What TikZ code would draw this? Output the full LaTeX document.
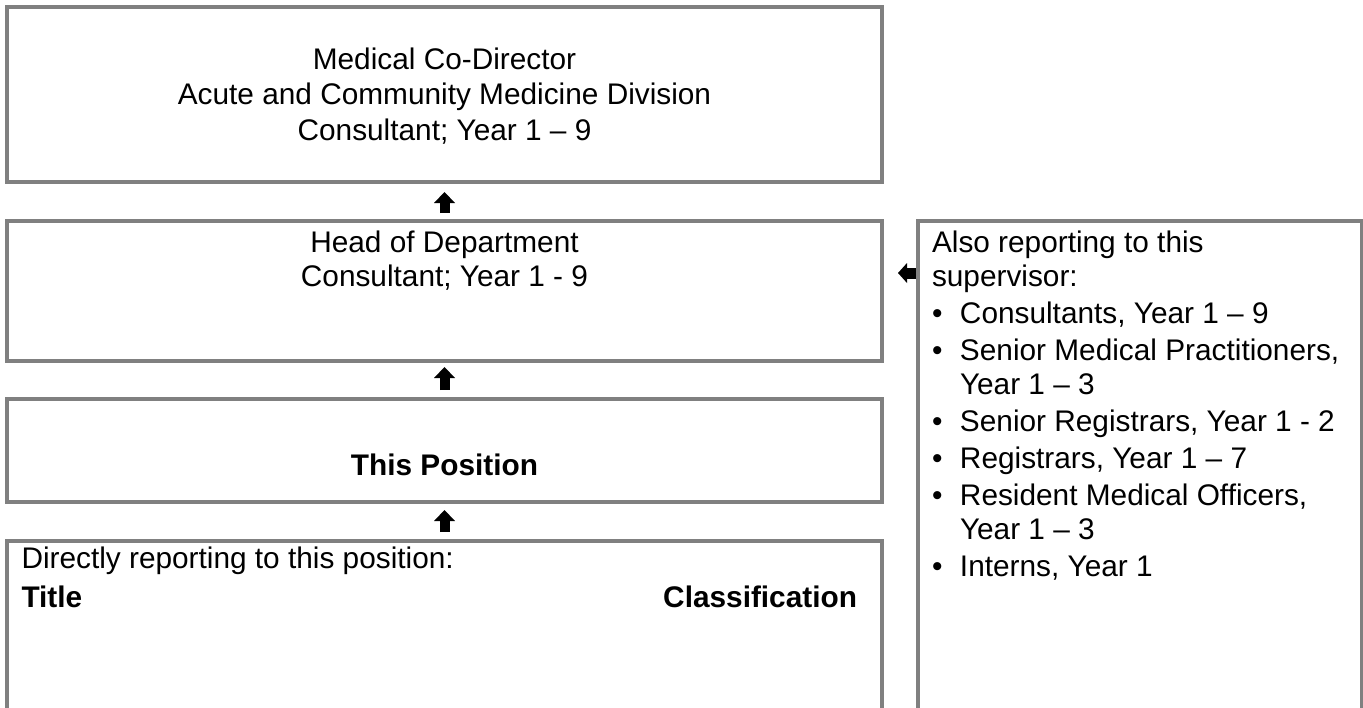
\documentclass[tikz,border=0pt]{standalone}
\usepackage{fontspec}
\setmainfont{Liberation Sans}
\usetikzlibrary{arrows.meta}
\definecolor{bordergray}{HTML}{808080}
\begin{document}
\begin{tikzpicture}[x=1pt,y=1pt,
  box/.style={draw=bordergray, line width=4pt, outer sep=0pt, inner sep=0pt, anchor=north west, minimum width=875pt},
  txt/.style={inner sep=0pt, outer sep=0pt, font=\fontsize{29.8}{34}\selectfont},
  fatu/.style={draw=black, line width=10pt, -{Triangle[width=21pt,length=11pt,line width=0pt]}},
  fatl/.style={draw=black, line width=11pt, -{Triangle[width=20pt,length=9pt,line width=0pt]}}]
\useasboundingbox (0,0) rectangle (1363,-707);
\clip (0,0) rectangle (1363,-707);
% boxes
\node[box, minimum height=175pt] (b1) at (7,-7) {};
\node[box, minimum height=140pt] (b2) at (7,-221) {};
\node[box, minimum height=103pt] (b3) at (7,-399) {};
\node[box, minimum height=300pt] (b4) at (7,-541) {};
\node[box, minimum width=443.5pt, minimum height=600pt] (rb) at (918,-221) {};
% texts
\node[txt, anchor=base] (t1) at (444.5,-69) {\begin{tabular}[t]{@{}c@{}}Medical Co-Director\\[1.5pt] Acute and Community Medicine Division\\[1.5pt] Consultant; Year 1 – 9\end{tabular}};
\node[txt, anchor=base] (t2) at (444.5,-252) {\begin{tabular}[t]{@{}c@{}}Head of Department\\ Consultant; Year 1 - 9\end{tabular}};
\node[txt, anchor=base] (t3) at (444.5,-475) {\bfseries This Position};
\node[txt, anchor=base west] (t4) at (21.5,-568) {Directly reporting to this position:};
\node[txt, anchor=base west] (t5) at (21.5,-607) {\bfseries Title};
\node[txt, anchor=base east] (t6) at (857,-607) {\bfseries Classification};
\node[txt, anchor=base west] (t7) at (932,-252) {\begin{tabular}[t]{@{}l@{}l@{}}
\multicolumn{2}{@{}l@{}}{Also reporting to this}\\
\multicolumn{2}{@{}l@{}}{supervisor:}\\[3pt]
\makebox[28pt][l]{•} & Consultants, Year 1 – 9\\[3pt]
\makebox[28pt][l]{•} & Senior Medical Practitioners,\\
 & Year 1 – 3\\[3pt]
\makebox[28pt][l]{•} & Senior Registrars, Year 1 - 2\\[3pt]
\makebox[28pt][l]{•} & Registrars, Year 1 – 7\\[3pt]
\makebox[28pt][l]{•} & Resident Medical Officers,\\
 & Year 1 – 3\\[3pt]
\makebox[28pt][l]{•} & Interns, Year 1
\end{tabular}};
% connectors
\draw[fatu, shorten <=8pt, shorten >=10pt] (b2.north) -- (b1.south);
\draw[fatu, shorten <=9pt, shorten >=6pt] (b3.north) -- (b2.south);
\draw[fatu, shorten <=9pt, shorten >=8pt] (b4.north) -- (b3.south);
\coordinate (rin) at (918,-273);
\draw[fatl, shorten <=2pt, shorten >=16pt] (rin) -- (rin -| b2.east);
\end{tikzpicture}
\end{document}
